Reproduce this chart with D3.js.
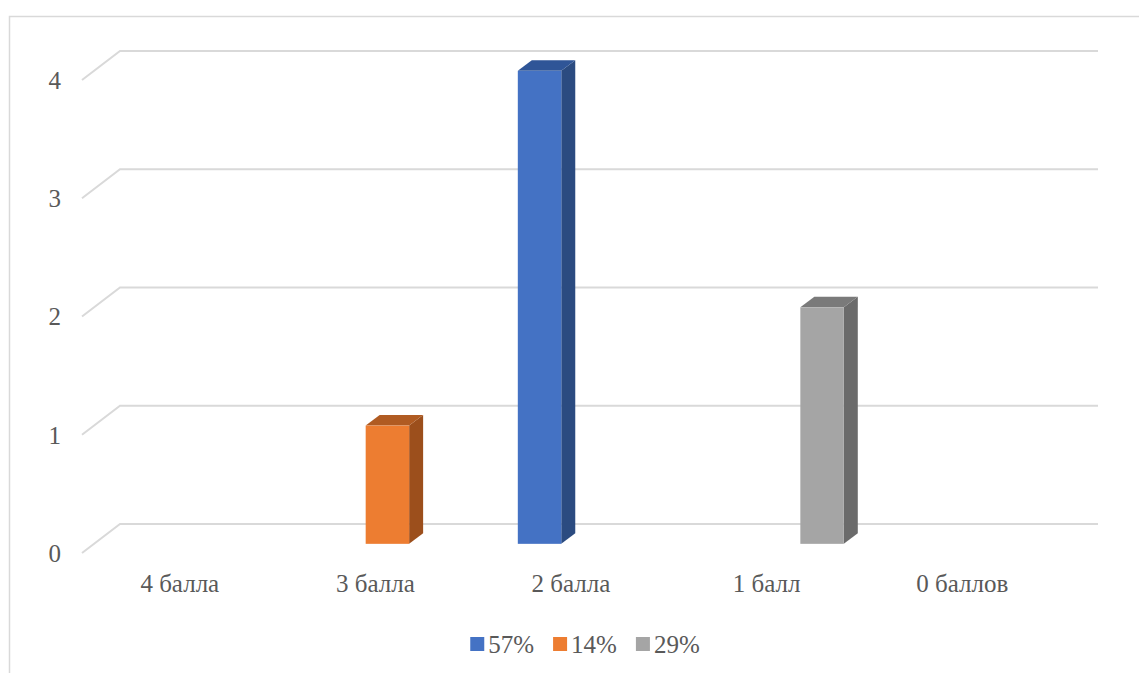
<!DOCTYPE html>
<html>
<head>
<meta charset="utf-8">
<script src="https://cdn.jsdelivr.net/npm/d3@7"></script>
<style>
  body { margin: 0; background: #fff; }
</style>
</head>
<body>
<div id="chart"></div>
<script>
// Data
const categories = ["4 балла", "3 балла", "2 балла", "1 балл", "0 баллов"];
const seriesNames = ["57%", "14%", "29%"];
const seriesValues = [
  [0, 0, 4, 0, 0],
  [0, 1, 0, 0, 0],
  [0, 0, 0, 2, 0]
];
const yTicks = [0, 1, 2, 3, 4];
const colors = [
  { front: "#4472C4", top: "#2F5597", side: "#2B4B80" },
  { front: "#ED7D31", top: "#B05B22", side: "#9C4F1C" },
  { front: "#A5A5A5", top: "#7A7A7A", side: "#6B6B6B" }
];

const FONT = "Liberation Serif, DejaVu Serif, serif";
const TXT = "#595959";

// Dimensions
const W = 1139, H = 673;
const front = { left: 82, right: 1060, top: 80, bottom: 553 };
const depth = { dx: 38, dy: -29 };   // side wall offset
const barZ0 = 0.316, barZ1 = 0.684;   // bar depth position (fraction of wall)

const svg = d3.select("#chart").append("svg")
  .attr("width", W).attr("height", H)
  .style("font-family", FONT);

// border
svg.append("rect")
  .attr("x", 9.5).attr("y", 16.5)
  .attr("width", W + 10).attr("height", H + 10)
  .attr("fill", "none").attr("stroke", "#D9D9D9").attr("stroke-width", 1.5);

// Scales
const y = d3.scaleLinear().domain([0, 4]).range([front.bottom, front.top]);
const x = d3.scaleBand().domain(categories).range([front.left, front.right]);
const xs = d3.scaleBand().domain(d3.range(seriesNames.length))
  .range([0, x.bandwidth()]).paddingOuter(0.75);

// Gridlines (side wall slant + back wall)
const grid = svg.append("g");
yTicks.forEach(t => {
  const y0 = y(t);
  grid.append("path")
    .attr("d", `M${front.left},${y0}L${front.left + depth.dx},${y0 + depth.dy}L${front.right + depth.dx},${y0 + depth.dy}`)
    .attr("fill", "none").attr("stroke", "#D9D9D9").attr("stroke-width", 2);
});

// Y labels
svg.append("g").selectAll("text").data(yTicks).join("text")
  .attr("x", 61).attr("y", d => y(d))
  .attr("dy", "0.35em")
  .attr("text-anchor", "end")
  .attr("font-size", 25)
  .style("font-family", FONT)
  .attr("fill", TXT)
  .text(d => d);

// Bars
const bars = [];
seriesValues.forEach((vals, si) => {
  vals.forEach((v, ci) => {
    if (v > 0) bars.push({ si, ci, v });
  });
});
const bx0 = depth.dx * barZ0, by0 = depth.dy * barZ0;
const ddx = depth.dx * (barZ1 - barZ0), ddy = depth.dy * (barZ1 - barZ0);

const barG = svg.append("g").selectAll("g").data(bars).join("g");
barG.each(function (d) {
  const g = d3.select(this);
  const x0 = x(categories[d.ci]) + xs(d.si) + bx0;
  const x1 = x0 + xs.bandwidth();
  const yb = y(0) + by0;
  const yt = y(d.v) + by0;
  const c = colors[d.si];
  // side
  g.append("path")
    .attr("d", `M${x1},${yt}L${x1 + ddx},${yt + ddy}L${x1 + ddx},${yb + ddy}L${x1},${yb}Z`)
    .attr("fill", c.side);
  // top
  g.append("path")
    .attr("d", `M${x0},${yt}L${x0 + ddx},${yt + ddy}L${x1 + ddx},${yt + ddy}L${x1},${yt}Z`)
    .attr("fill", c.top);
  // front
  g.append("rect")
    .attr("x", x0).attr("y", yt)
    .attr("width", x1 - x0).attr("height", yb - yt)
    .attr("fill", c.front);
});

// Category labels
svg.append("g").selectAll("text").data(categories).join("text")
  .attr("x", d => x(d) + x.bandwidth() / 2)
  .attr("y", 592)
  .attr("text-anchor", "middle")
  .attr("font-size", 25)
  .style("font-family", FONT)
  .attr("fill", TXT)
  .text(d => d);

// Legend
const legend = svg.append("g");
let lx = 0;
seriesNames.forEach((name, i) => {
  const item = legend.append("g").attr("transform", `translate(${lx},0)`);
  item.append("rect")
    .attr("x", 0).attr("y", -7).attr("width", 14).attr("height", 14)
    .attr("fill", colors[i].front);
  const t = item.append("text")
    .attr("x", 18).attr("y", 0).attr("dy", "0.35em")
    .attr("font-size", 25)
    .style("font-family", FONT)
    .attr("fill", TXT)
    .text(name);
  lx += 18 + t.node().getComputedTextLength() + 19;
});
const legendW = lx - 19;
legend.attr("transform", `translate(${585 - legendW / 2},644)`);
</script>
</body>
</html>
